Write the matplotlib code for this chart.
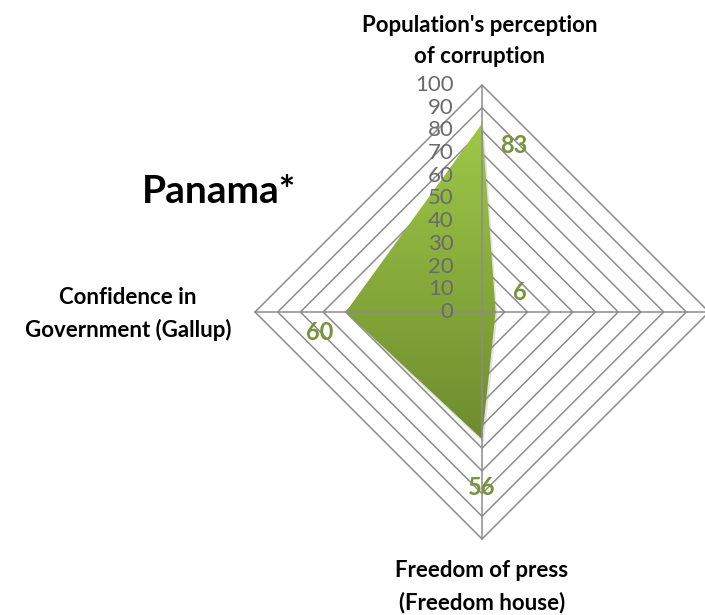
import matplotlib.pyplot as plt
import numpy as np
from matplotlib.path import Path
from matplotlib.patches import PathPatch, Polygon

# chart data (clockwise from top)
categories = ["Population's perception\nof corruption", "",
              "Freedom of press\n(Freedom house)", "Confidence in\nGovernment (Gallup)"]
values = [83, 6, 56, 60]
ring_levels = [10, 20, 30, 40, 50, 60, 70, 80, 90, 100]
tick_labels = ['0', '10', '20', '30', '40', '50', '60', '70', '80', '90', '100']
title = 'Panama*'

plt.rcParams['font.family'] = ['Lato', 'DejaVu Sans']

grid_col = '#8c8c8c'
green_txt = '#77933c'

# angles for top, right, bottom, left
angles = np.radians([90, 0, -90, 180])


def to_xy(r_list):
    r = np.asarray(r_list, dtype=float)
    return r * np.cos(angles), r * np.sin(angles)


fig = plt.figure(figsize=(7.05, 6.15), dpi=100)
ax = fig.add_axes([0, 0, 1, 1])
ax.set_axis_off()

# 1 data unit = 2.27 px, centre at pixel (482, 312)
scale = 2.27
ax.set_xlim(-482 / scale, (705 - 482) / scale)
ax.set_ylim(-(615 - 312) / scale, 312 / scale)
ax.set_aspect('auto')

# rings
for lev in ring_levels:
    xs, ys = to_xy([lev] * 4)
    ax.add_patch(Polygon(np.column_stack([xs, ys]), closed=True, fill=False,
                         edgecolor=grid_col, lw=1.1, zorder=1))

# shadow
xs, ys = to_xy(values)
ax.add_patch(Polygon(np.column_stack([xs + 0.8, ys - 1.6]), closed=True,
                     facecolor='#8a8a8a', edgecolor='none', alpha=0.25, zorder=2))

# gradient fill clipped to the series polygon
poly = Path(np.column_stack([np.append(xs, xs[0]), np.append(ys, ys[0])]), closed=True)
clip = PathPatch(poly, facecolor='none', edgecolor='none')
ax.add_patch(clip)
grad = np.linspace(0, 1, 256).reshape(-1, 1)
top_c = np.array([0x9f, 0xc8, 0x48]) / 255
bot_c = np.array([0x6e, 0x8c, 0x2e]) / 255
img = top_c[None, None, :] * (1 - grad[:, :, None]) + bot_c[None, None, :] * grad[:, :, None]
im = ax.imshow(img, extent=[xs.min(), xs.max(), ys.min(), ys.max()],
               origin='upper', aspect='auto', zorder=3)
im.set_clip_path(clip)

# spokes
for a in angles:
    ax.plot([0, 100 * np.cos(a)], [0, 100 * np.sin(a)], color=grid_col, lw=1.1, zorder=4)

# value axis tick labels
for i, lab in enumerate(tick_labels):
    ax.text(-12.5, i * 10, lab, ha='right', va='center', fontsize=16,
            color='#6a6a6a', zorder=5)

# data labels (pixel offsets from the points)
offsets = [(32, -22), (24, 19), (0, -48), (-26, -21)]
for x, y, v, off in zip(xs, ys, values, offsets):
    ax.annotate(str(v), (x, y), xytext=off, textcoords='offset pixels',
                ha='center', va='center', fontsize=17, fontweight='bold',
                color=green_txt, zorder=6)

# category labels
label_pos = [(-1, 119.5), (None, None), (0, -121), (-156, -0.7)]
for lab, (lx, ly) in zip(categories, label_pos):
    if not lab:
        continue
    ax.text(lx, ly, lab, ha='center', va='center', fontsize=16,
            fontweight='bold', color='black', linespacing=1.6)

ax.text(-116, 53, title, ha='center', va='center', fontsize=28,
        fontweight='bold', color='black')

plt.savefig('out.png', dpi=100)
